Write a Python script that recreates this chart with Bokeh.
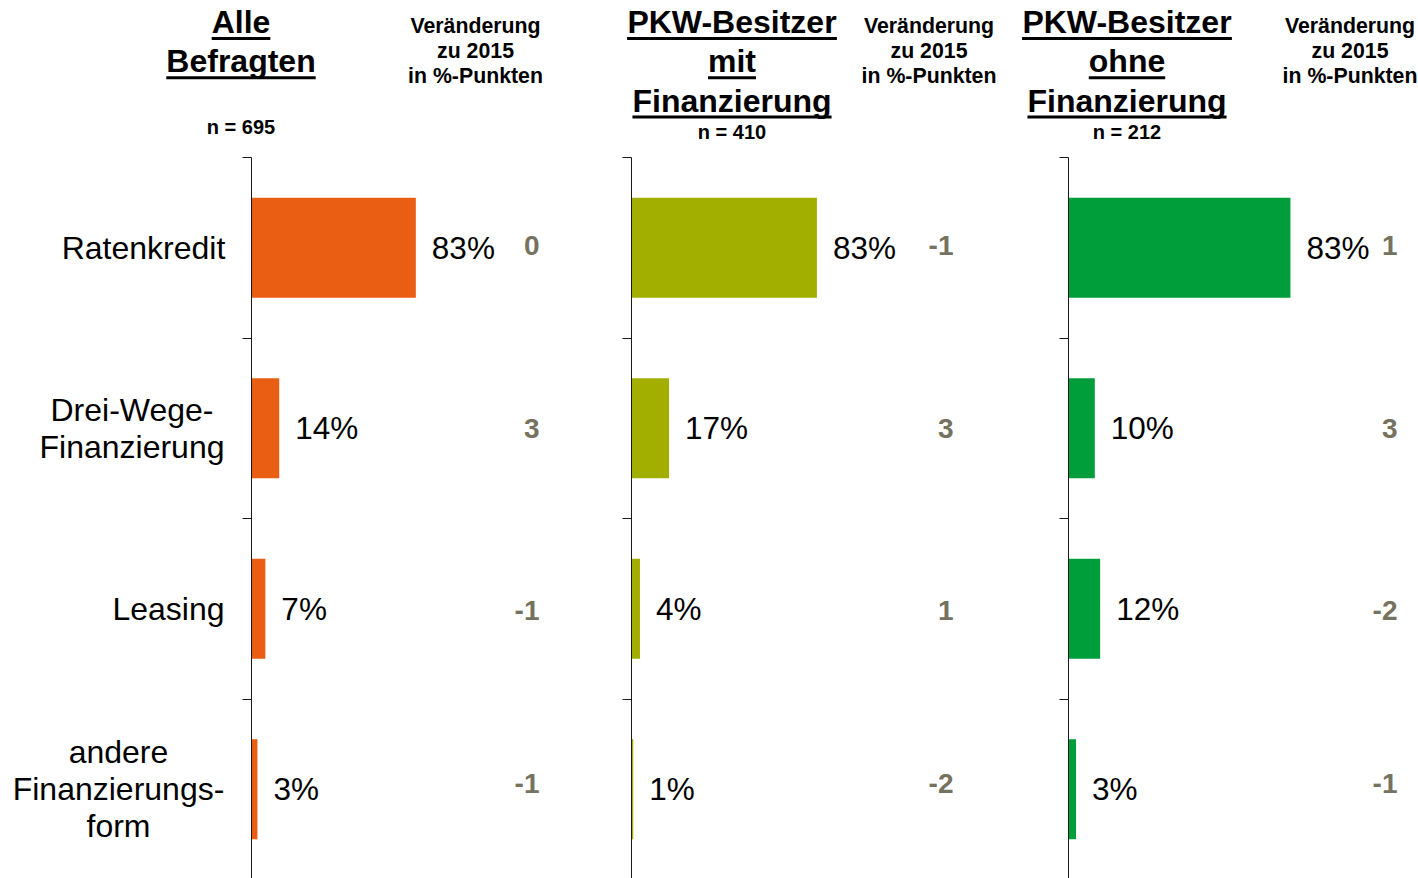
from bokeh.plotting import figure
from bokeh.models import Range1d, LinearAxis, FixedTicker, ColumnDataSource
from bokeh.core.properties import value
from bokeh.embed import file_html
from bokeh.resources import INLINE

# ---------------- data ----------------
categories = ["Ratenkredit", "Drei-Wege-\nFinanzierung", "Leasing",
              "andere\nFinanzierungs-\nform"]
group_titles = [["Alle", "Befragten"],
                ["PKW-Besitzer", "mit", "Finanzierung"],
                ["PKW-Besitzer", "ohne", "Finanzierung"]]
sample_sizes = ["n = 695", "n = 410", "n = 212"]
share_all = [83, 14, 7, 3]
share_with = [83, 17, 4, 1]
share_without = [83, 10, 12, 3]
change_all = [0, 3, -1, -1]
change_with = [-1, 3, 1, -2]
change_without = [1, 3, -2, -1]
change_header = ["Veränderung", "zu 2015", "in %-Punkten"]

# ---------------- layout / style ----------------
W, H = 1418, 878
OX, OY = 0, 0
BAND = 180.5          # px per category band
TOP = 157             # screen y of first band boundary
FONT = value("Liberation Sans")
CHG_COLOR = "#75725F"
TITLE_SIZE = 32

# Arial/Liberation Sans Bold advance widths (per 1000 em) for underline lengths
BOLD_W = {"A": 722, "l": 278, "e": 556, "B": 722, "f": 333, "r": 389, "a": 556,
          "g": 611, "t": 333, "n": 611, "P": 667, "K": 722, "W": 944, "-": 333,
          "s": 556, "i": 278, "z": 500, "m": 889, "F": 611, "u": 611, "o": 611,
          "h": 611}


def text_width(s, size):
    return sum(BOLD_W.get(c, 556) for c in s) * size / 1000.0


panels = [
    dict(rng="default", axis_x=251.0, scale=1.98, color="#E95E13",
         shares=share_all, changes=change_all, title=group_titles[0],
         title_cx=240.5, n=sample_sizes[0], n_mid=126.3, chg_right=539,
         head_cx=475),
    dict(rng="p2", axis_x=630.5, scale=2.24, color="#A3AF00",
         shares=share_with, changes=change_with, title=group_titles[1],
         title_cx=731.5, n=sample_sizes[1], n_mid=131.7, chg_right=953,
         head_cx=928.5),
    dict(rng="p3", axis_x=1067.5, scale=2.68, color="#009E3A",
         shares=share_without, changes=change_without, title=group_titles[2],
         title_cx=1126.5, n=sample_sizes[2], n_mid=131.7, chg_right=1397,
         head_cx=1349.5),
]

cat_cx = [143, 131.5, 168, 118]   # centre of each category label block (screen px)
CAT_LINE = 37
CHG_YOFF = [-2, 0, 2, -6]         # small vertical nudges of the change figures (px)

ranges = {}
for pn in panels:
    start = -(pn["axis_x"] - OX) / pn["scale"]
    ranges[pn["rng"]] = Range1d(start, start + W / pn["scale"])

y_top = -(TOP - OY) / BAND
y_bottom = (OY + H - TOP) / BAND

p = figure(width=W, height=H, x_range=ranges["default"],
           y_range=Range1d(y_bottom, y_top),
           x_axis_location=None, y_axis_location=None,
           toolbar_location=None, output_backend="svg",
           min_border=0, outline_line_color=None,
           background_fill_color="white", border_fill_color="white")
p.extra_x_ranges = {"p2": ranges["p2"], "p3": ranges["p3"],
                    "px": Range1d(OX, OX + W)}
p.extra_y_ranges = {"py": Range1d(OY + H, OY)}
for g in list(p.xgrid) + list(p.ygrid):
    g.visible = False

ypos = [i + 0.5 for i in range(len(categories))]

for pn in panels:
    # bars
    src = ColumnDataSource(dict(y=ypos, v=pn["shares"],
                                lab=[f"{v}%" for v in pn["shares"]],
                                chg=[str(c) for c in pn["changes"]],
                                cx=[pn["chg_right"]] * len(ypos),
                                yo=CHG_YOFF))
    p.hbar(y="y", left=0, right="v", height=0.555, source=src,
           x_range_name=pn["rng"], fill_color=pn["color"], line_color=None)
    # value labels
    p.text(x="v", y="y", text="lab", source=src, x_range_name=pn["rng"],
           x_offset=16, text_align="left", text_baseline="middle",
           text_font=FONT, text_font_size="31.5px", text_color="black")
    # change vs 2015
    p.text(x="cx", y="y", text="chg", source=src, x_range_name="px",
           text_align="right", text_baseline="middle", y_offset="yo",
           text_font=FONT, text_font_size="28px", text_font_style="bold",
           text_color=CHG_COLOR)
    # axis
    ax = LinearAxis(x_range_name=pn["rng"], fixed_location=0,
                    ticker=FixedTicker(ticks=list(range(len(categories) + 1))),
                    bounds=(0, len(categories)),
                    major_tick_out=9, major_tick_in=0,
                    minor_tick_line_color=None,
                    major_tick_line_color="#1a1a1a",
                    axis_line_color="#1a1a1a", axis_line_width=1,
                    major_label_text_color=None)
    p.add_layout(ax, "left")

    # group title, underlined
    tx, ty, tt, ux0, ux1, uy = [], [], [], [], [], []
    for j, line in enumerate(pn["title"]):
        mid = 21.5 + j * 39.3
        tx.append(pn["title_cx"]); ty.append(mid); tt.append(line)
        w = text_width(line, TITLE_SIZE)
        ux0.append(pn["title_cx"] - w / 2); ux1.append(pn["title_cx"] + w / 2)
        uy.append(mid + 16.5)
    p.text(x=tx, y=ty, text=tt, x_range_name="px", y_range_name="py",
           text_align="center", text_baseline="middle",
           text_font=FONT, text_font_size=f"{TITLE_SIZE}px",
           text_font_style="bold", text_color="black")
    p.segment(x0=ux0, y0=uy, x1=ux1, y1=uy, x_range_name="px",
              y_range_name="py", line_color="black", line_width=3)
    # sample size
    p.text(x=[pn["title_cx"]], y=[pn["n_mid"]], text=[pn["n"]],
           x_range_name="px", y_range_name="py",
           text_align="center", text_baseline="middle",
           text_font=FONT, text_font_size="20px", text_font_style="bold",
           text_color="black")
    # change header
    p.text(x=[pn["head_cx"]] * 3, y=[25.7 + 25 * j for j in range(3)],
           text=change_header, x_range_name="px", y_range_name="py",
           text_align="center", text_baseline="middle",
           text_font=FONT, text_font_size="21.3px", text_font_style="bold",
           text_color="black")

# category labels (centered lines)
lx, ly, lt, lo = [], [], [], []
for k, cat in enumerate(categories):
    lines = cat.split("\n")
    n = len(lines)
    for j, line in enumerate(lines):
        lx.append(cat_cx[k]); ly.append(ypos[k]); lt.append(line)
        lo.append((j - (n - 1) / 2) * CAT_LINE)
p.text(x="x", y="y", text="t", y_offset="o",
       source=ColumnDataSource(dict(x=lx, y=ly, t=lt, o=lo)),
       x_range_name="px", text_align="center", text_baseline="middle",
       text_font=FONT, text_font_size="32px", text_color="black")

open("out.html", "w").write(file_html(p, INLINE))
